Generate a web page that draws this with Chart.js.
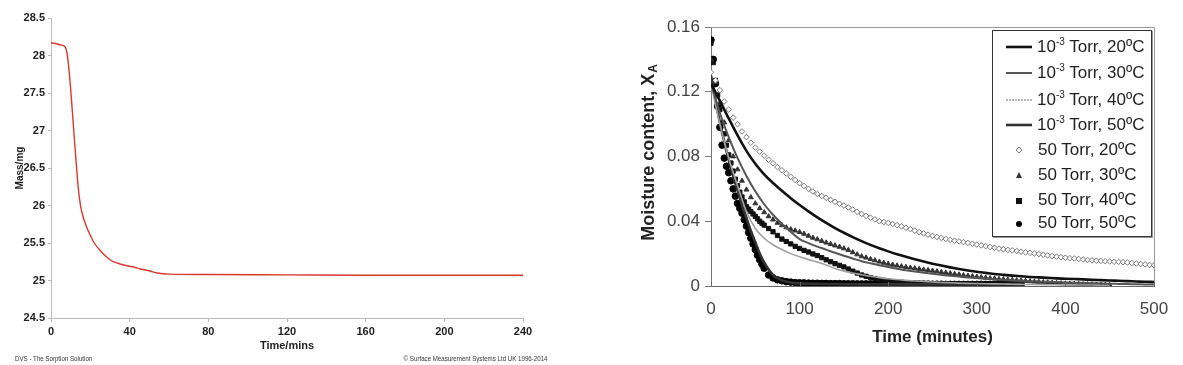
<!DOCTYPE html>
<html>
<head>
<meta charset="utf-8">
<script src="https://cdn.jsdelivr.net/npm/chart.js@4.4.1/dist/chart.umd.min.js"></script>
<style>
  body { margin: 0; background: #fff; width: 1183px; height: 365px; overflow: hidden; position: relative; font-family: "Liberation Sans", Arial, sans-serif; }
  #left { position: absolute; left: 0; top: 0; }
  #right { position: absolute; left: 600px; top: 0; }
  .foot { position: absolute; top: 355px; font-size: 7px; color: #333; white-space: nowrap; transform: scaleX(0.88); }
  #legend { position: absolute; left: 992px; top: 30px; width: 158px; height: 205px; border: 1px solid #333; background: #fff; box-shadow: 1px 1px 0 #999; }
  .row { position: absolute; left: 0; height: 24px; line-height: 24px; font-size: 17px; color: #222; }
  .row svg { position: absolute; left: 12px; top: 6px; }
  .row span { position: absolute; left: 44px; white-space: nowrap; }
  .row sup { font-size: 10px; vertical-align: 7px; line-height: 0; }
</style>
</head>
<body>
<canvas id="left" width="560" height="365"></canvas>
<canvas id="right" width="583" height="365"></canvas>
<div class="foot" style="left:15px; transform-origin: left center;">DVS - The Sorption Solution</div>
<div class="foot" style="right:635px; transform-origin: right center;">© Surface Measurement Systems Ltd UK 1996-2014</div>
<div id="legend"></div>
<script>
// ---- left chart: DVS mass vs time ----
var dvsTime = [0, 2, 5, 7, 8, 9, 10, 11, 12, 13, 14, 15, 16, 18, 20, 22, 25, 28, 31, 34, 38, 42, 46, 50, 54, 57, 60, 80, 120, 160, 200, 240];
var dvsMass = [28.17, 28.16, 28.14, 28.12, 28.05, 27.85, 27.55, 27.2, 26.85, 26.5, 26.2, 26.0, 25.88, 25.72, 25.6, 25.5, 25.4, 25.32, 25.26, 25.23, 25.2, 25.18, 25.15, 25.13, 25.1, 25.09, 25.085, 25.08, 25.075, 25.07, 25.07, 25.07];

// ---- right chart: moisture content vs time ----
var t5to500 = [0,5,10,15,20,25,30,35,40,45,50,55,60,65,70,75,80,85,90,95,100,105,110,115,120,125,130,135,140,145,150,155,160,165,170,175,180,185,190,195,200,205,210,215,220,225,230,235,240,245,250,255,260,265,270,275,280,285,290,295,300,305,310,315,320,325,330,335,340,345,350,355,360,365,370,375,380,385,390,395,400,405,410,415,420,425,430,435,440,445,450,455,460,465,470,475,480,485,490,495,500];
var t5to450 = [0,5,10,15,20,25,30,35,40,45,50,55,60,65,70,75,80,85,90,95,100,105,110,115,120,125,130,135,140,145,150,155,160,165,170,175,180,185,190,195,200,205,210,215,220,225,230,235,240,245,250,255,260,265,270,275,280,285,290,295,300,305,310,315,320,325,330,335,340,345,350,355,360,365,370,375,380,385,390,395,400,405,410,415,420,425,430,435,440,445,450];
var tFast = [0,2.5,5,7.5,10,12.5,15,17.5,20,22.5,25,27.5,30,32.5,35,37.5,40,42.5,45,47.5,50,52.5,55,57.5,60,65,70,75,80,85,90,95,100,105,110,115,120,125,130,135,140,145,150,155,160,165,170,175,180,185,190,195,200,205,210,215,220,225,230,235,240,245,250,255,260,265,270,275,280,285,290,295,300,305,310,315,320,325,330,335,340,345,350];
var t10to500 = [0,10,20,30,40,50,60,70,80,90,100,110,120,130,140,150,160,170,180,190,200,210,220,230,240,250,260,270,280,290,300,310,320,330,340,350,360,370,380,390,400,410,420,430,440,450,460,470,480,490,500];
var t10to450 = [0,10,20,30,40,50,60,70,80,90,100,110,120,130,140,150,160,170,180,190,200,210,220,230,240,250,260,270,280,290,300,310,320,330,340,350,360,370,380,390,400,410,420,430,440,450];
var tLine50 = [0,5,10,15,20,25,30,35,40,45,50,55,60,70,80,90,100,110,120,130,140,150,160,170,180,190,200,210,220,230,240,250,260,270,280,290,300,310,320,330,340,350];

var torr50_20 = [0.132,0.127,0.121,0.114,0.109,0.104,0.100,0.0955,0.092,0.0885,0.0855,0.083,0.0805,0.078,0.0758,0.0735,0.0715,0.0695,0.0675,0.0655,0.0635,0.0618,0.060,0.0584,0.0568,0.0556,0.0545,0.0532,0.052,0.0508,0.0497,0.0485,0.0472,0.0458,0.0445,0.0433,0.0422,0.0411,0.040,0.0395,0.039,0.0383,0.0376,0.0368,0.036,0.0351,0.0342,0.0333,0.0325,0.0317,0.031,0.0303,0.0297,0.0291,0.0285,0.028,0.0276,0.0271,0.0266,0.0261,0.0256,0.0251,0.0246,0.0241,0.0236,0.0231,0.0227,0.0223,0.022,0.0216,0.0212,0.0208,0.0205,0.0201,0.0197,0.0193,0.0189,0.0185,0.0181,0.0178,0.0175,0.0172,0.017,0.0167,0.0164,0.0161,0.0158,0.0156,0.0155,0.0153,0.0152,0.015,0.0149,0.0147,0.0145,0.0142,0.0139,0.0136,0.0133,0.013,0.0128];
var torr50_30 = [0.140,0.126,0.113,0.101,0.090,0.080,0.072,0.065,0.0595,0.0548,0.051,0.048,0.0455,0.043,0.041,0.039,0.0375,0.0362,0.035,0.0342,0.0333,0.0322,0.031,0.0298,0.0288,0.0278,0.0268,0.0259,0.025,0.0242,0.0232,0.0222,0.0208,0.0195,0.0183,0.0175,0.0166,0.0158,0.015,0.0143,0.0137,0.0131,0.0126,0.0121,0.0117,0.0113,0.0109,0.0105,0.0101,0.0098,0.0094,0.009,0.0086,0.0082,0.0078,0.0074,0.007,0.0066,0.0063,0.006,0.0057,0.0054,0.0051,0.0048,0.0046,0.0043,0.0041,0.0039,0.0037,0.0035,0.0033,0.0031,0.0029,0.0027,0.0025,0.0023,0.0021,0.0019,0.0018,0.0016,0.0015,0.0014,0.0013,0.0012,0.0011,0.001,0.0009,0.0008,0.0007,0.0006,0.0005];
var torr50_40 = [0.150,0.138,0.127,0.118,0.109,0.101,0.094,0.087,0.081,0.076,0.071,0.066,0.062,0.058,0.055,0.052,0.049,0.0475,0.046,0.0445,0.043,0.0415,0.040,0.0388,0.0376,0.0355,0.0335,0.0312,0.029,0.0275,0.026,0.0245,0.0232,0.022,0.021,0.0198,0.0188,0.0175,0.0162,0.015,0.0138,0.0128,0.0118,0.0105,0.0092,0.008,0.0068,0.006,0.0052,0.0046,0.004,0.0035,0.003,0.0027,0.0025,0.0023,0.0021,0.002,0.0019,0.0018,0.0017,0.0016,0.0015,0.0015,0.0014,0.0014,0.0013,0.0013,0.0013,0.0012,0.0012,0.0012,0.0011,0.0011,0.0011,0.0011,0.001,0.001,0.001,0.001,0.001,0.001,0.001];
var torr50_50 = [0.152,0.14,0.125,0.111,0.098,0.087,0.079,0.074,0.070,0.065,0.060,0.0555,0.051,0.048,0.045,0.041,0.037,0.033,0.0295,0.026,0.0225,0.019,0.0162,0.0135,0.011,0.0068,0.005,0.0038,0.0032,0.0027,0.0024,0.0021,0.002,0.0019,0.0018,0.0017,0.0017,0.0016,0.0016,0.0015,0.0015,0.0015,0.0014,0.0014,0.0014,0.0013,0.0013,0.0013,0.0013,0.0012,0.0012,0.0012,0.0012,0.0012,0.0011,0.0011,0.0011,0.0011,0.0011,0.0011,0.0011,0.0011,0.0011,0.0011,0.0011,0.001,0.001,0.001,0.001,0.001,0.001,0.001,0.001,0.001,0.001,0.001,0.001,0.001,0.001,0.001,0.001,0.001,0.001];
var mtorr_20 = [0.125,0.1145,0.1035,0.093,0.0835,0.0755,0.069,0.0636,0.0588,0.0542,0.05,0.0461,0.0424,0.039,0.0358,0.0329,0.0302,0.0277,0.0254,0.0233,0.0214,0.0196,0.018,0.0165,0.0151,0.0138,0.0126,0.0115,0.0105,0.0096,0.0088,0.0081,0.0074,0.0069,0.0064,0.006,0.0056,0.0053,0.005,0.0047,0.0045,0.0043,0.0041,0.0038,0.0036,0.0034,0.0032,0.003,0.0028,0.0026,0.0025];
var mtorr_30 = [0.125,0.107,0.092,0.079,0.068,0.0585,0.0505,0.044,0.0385,0.0335,0.029,0.0265,0.0243,0.0225,0.0205,0.0187,0.017,0.0153,0.014,0.0128,0.0117,0.0107,0.0097,0.0089,0.0082,0.0075,0.0069,0.0063,0.0058,0.0053,0.0049,0.0045,0.0042,0.0039,0.0036,0.0033,0.003,0.0028,0.0026,0.0024,0.0022,0.002,0.0019,0.0017,0.0016,0.0014,0.0013,0.0012,0.0011,0.001,0.0009];
var mtorr_40 = [0.125,0.100,0.079,0.062,0.046,0.0355,0.0295,0.0255,0.0225,0.020,0.018,0.0163,0.0148,0.013,0.0108,0.0092,0.008,0.007,0.006,0.0052,0.0045,0.004,0.0035,0.0031,0.0028,0.0025,0.0022,0.002,0.0018,0.0016,0.0015,0.0014,0.0013,0.0012,0.0011,0.001,0.0009,0.0009,0.0008,0.0008,0.0007,0.0007,0.0006,0.0006,0.0005,0.0005];
var mtorr_50 = [0.13,0.115,0.101,0.089,0.078,0.068,0.059,0.050,0.042,0.034,0.027,0.020,0.0145,0.0068,0.0035,0.0022,0.0016,0.0014,0.0013,0.0012,0.0012,0.0011,0.0011,0.001,0.001,0.001,0.001,0.001,0.001,0.001,0.001,0.001,0.0009,0.0009,0.0009,0.0009,0.0009,0.0009,0.0009,0.0009,0.0009,0.0009];

var seriesNames = ['20ºC', '30ºC', '40ºC', '50ºC'];

function pts(xs, ys) {
  return xs.map(function (x, i) { return { x: x, y: ys[i] }; });
}

var FONT = '"Liberation Sans", Arial, sans-serif';

// left chart
new Chart(document.getElementById('left'), {
  type: 'line',
  data: {
    datasets: [{
      data: pts(dvsTime, dvsMass),
      borderColor: '#d8392f',
      borderWidth: 1.4,
      pointRadius: 0,
      cubicInterpolationMode: 'monotone'
    }]
  },
  options: {
    responsive: false,
    animation: false,
    layout: { padding: { top: 18, right: 37, left: 0, bottom: 0 } },
    plugins: { legend: { display: false }, tooltip: { enabled: false } },
    scales: {
      x: {
        type: 'linear', min: 0, max: 240,
        afterFit: function (s) { s.height = 47; },
        ticks: { stepSize: 40, color: '#222', padding: 3, maxRotation: 0, font: { family: FONT, size: 11, weight: 'bold' } },
        grid: { drawOnChartArea: false, tickLength: 4, color: '#bbb' },
        border: { color: '#bbb' },
        title: { display: true, text: 'Time/mins', color: '#222', padding: { top: 0, bottom: 12 }, font: { family: FONT, size: 11, weight: 'bold' } }
      },
      y: {
        min: 24.5, max: 28.5,
        afterFit: function (s) { s.width = 51; },
        ticks: { stepSize: 0.5, color: '#222', padding: 3, font: { family: FONT, size: 11, weight: 'bold' },
          callback: function (v) { return String(v); } },
        grid: { drawOnChartArea: false, tickLength: 3, color: '#bbb' },
        border: { color: '#bbb' },
        title: { display: true, text: 'Mass/mg', color: '#222', padding: { top: 14, bottom: 0 }, font: { family: FONT, size: 10, weight: 'bold' } }
      }
    }
  }
});

// frame, inward x ticks and subscripted y title for the right chart
var rightDecor = {
  id: 'rightDecor',
  afterDraw: function (chart) {
    var ctx = chart.ctx, a = chart.chartArea, xs = chart.scales.x;
    ctx.save();
    ctx.strokeStyle = '#999';
    ctx.lineWidth = 1;
    ctx.beginPath();
    ctx.moveTo(a.left, a.top + 0.5); ctx.lineTo(a.right + 0.5, a.top + 0.5); ctx.lineTo(a.right + 0.5, a.bottom);
    ctx.stroke();
    ctx.strokeStyle = '#666';
    xs.ticks.forEach(function (t) {
      var px = Math.round(xs.getPixelForValue(t.value)) + 0.5;
      ctx.beginPath(); ctx.moveTo(px, a.bottom); ctx.lineTo(px, a.bottom - 4); ctx.stroke();
    });
    ctx.translate(49, 153);
    ctx.rotate(-Math.PI / 2);
    ctx.fillStyle = '#222';
    ctx.textBaseline = 'middle';
    var main = 'Moisture content, X';
    ctx.font = 'bold 18px ' + FONT;
    var w1 = ctx.measureText(main).width;
    ctx.font = 'bold 12px ' + FONT;
    var w2 = ctx.measureText('A').width;
    var x0 = -(w1 + w2) / 2;
    ctx.font = 'bold 18px ' + FONT;
    ctx.fillText(main, x0, 0);
    ctx.font = 'bold 12px ' + FONT;
    ctx.fillText('A', x0 + w1 + 1, 5);
    ctx.restore();
  }
};

function lineSet(xs, ys, color, width, dash) {
  return { data: pts(xs, ys), borderColor: color, borderWidth: width, borderDash: dash || [],
    pointRadius: 0, cubicInterpolationMode: 'monotone', order: 1 };
}
function markSet(xs, ys, style, fill, stroke, r) {
  return { data: pts(xs, ys), showLine: false, pointStyle: style, pointRadius: r,
    pointBackgroundColor: fill, pointBorderColor: stroke, pointBorderWidth: 1, order: 2 };
}

new Chart(document.getElementById('right'), {
  type: 'line',
  data: {
    datasets: [
      lineSet(t10to500, mtorr_20, '#111', 2.6),
      lineSet(t10to500, mtorr_30, '#555', 2),
      lineSet(t10to450, mtorr_40, '#a0a0a0', 1.6),
      lineSet(tLine50, mtorr_50, '#333', 2.6),
      markSet(t5to500, torr50_20, 'rectRot', '#fff', '#777', 2.8),
      markSet(t5to450, torr50_30, 'triangle', '#333', '#333', 2.8),
      markSet(tFast, torr50_40, 'rect', '#111', '#111', 3),
      markSet(tFast, torr50_50, 'circle', '#000', '#000', 3.3)
    ]
  },
  options: {
    responsive: false,
    animation: false,
    layout: { padding: { top: 27, right: 29, left: 0, bottom: 0 } },
    plugins: { legend: { display: false }, tooltip: { enabled: false } },
    scales: {
      x: {
        type: 'linear', min: 0, max: 500,
        afterFit: function (s) { s.height = 79; },
        ticks: { stepSize: 100, color: '#444', padding: 13, maxRotation: 0, font: { family: FONT, size: 17 } },
        grid: { drawOnChartArea: false, drawTicks: false, color: '#666' },
        border: { color: '#666' },
        title: { display: true, text: 'Time (minutes)', color: '#222', padding: { top: 0, bottom: 17 }, font: { family: FONT, size: 17, weight: 'bold' } }
      },
      y: {
        min: 0, max: 0.16,
        afterFit: function (s) { s.width = 111; },
        ticks: { stepSize: 0.04, color: '#444', padding: 5, font: { family: FONT, size: 17 },
          callback: function (v) { return String(+v.toFixed(2)); } },
        grid: { drawOnChartArea: false, tickLength: 6, color: '#777' },
        border: { color: '#777' }
      }
    }
  },
  plugins: [rightDecor]
});

// legend box
var legendRows = [
  { kind: 'line', color: '#111', w: 2.6, text: '10<sup>-3</sup> Torr, ' + seriesNames[0] },
  { kind: 'line', color: '#555', w: 2, text: '10<sup>-3</sup> Torr, ' + seriesNames[1] },
  { kind: 'line', color: '#a0a0a0', w: 1.6, dash: '2,1', text: '10<sup>-3</sup> Torr, ' + seriesNames[2] },
  { kind: 'line', color: '#333', w: 2.6, text: '10<sup>-3</sup> Torr, ' + seriesNames[3] },
  { kind: 'diamond', text: '50 Torr, ' + seriesNames[0] },
  { kind: 'tri', text: '50 Torr, ' + seriesNames[1] },
  { kind: 'square', text: '50 Torr, ' + seriesNames[2] },
  { kind: 'dot', text: '50 Torr, ' + seriesNames[3] }
];
var rowTops = [4, 30, 57, 82, 107, 132, 157, 180];
var html = '';
legendRows.forEach(function (r, i) {
  var g = '';
  if (r.kind === 'line') g = '<line x1="1" y1="6" x2="27" y2="6" stroke="' + r.color + '" stroke-width="' + r.w + '"' + (r.dash ? ' stroke-dasharray="' + r.dash + '"' : '') + '/>';
  if (r.kind === 'diamond') g = '<polygon points="14,3 17,6 14,9 11,6" fill="#fff" stroke="#777" stroke-width="1"/>';
  if (r.kind === 'tri') g = '<polygon points="14,3 17,9 11,9" fill="#333"/>';
  if (r.kind === 'square') g = '<rect x="11" y="4" width="6" height="6" fill="#111"/>';
  if (r.kind === 'dot') g = '<circle cx="14" cy="7" r="3" fill="#000"/>';
  html += '<div class="row" style="top:' + rowTops[i] + 'px;width:158px"><svg width="30" height="12">' + g + '</svg><span' + (r.kind === 'line' ? '' : ' style="left:45px"') + '>' + r.text + '</span></div>';
});
document.getElementById('legend').innerHTML = html;
</script>
</body>
</html>
